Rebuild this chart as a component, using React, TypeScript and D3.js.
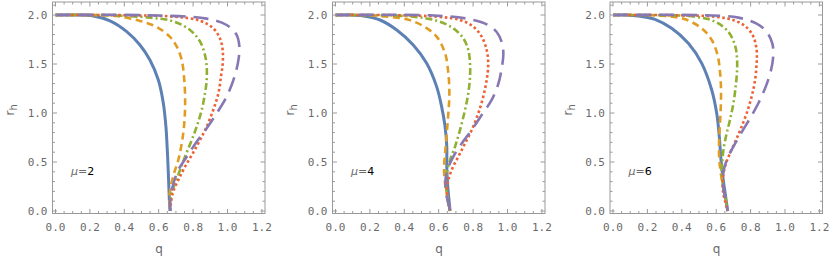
import React from "react";
import * as d3 from "d3";

type Pt = [number, number];

// Panel 1 (mu = 2)
const p1Blue: Pt[] = [[0,2],[0.1,2.0],[0.22,1.99],[0.317,1.94],[0.414,1.83],[0.491,1.694],[0.549,1.541],[0.598,1.337],[0.627,1.099],[0.642,0.86],[0.65,0.622],[0.656,0.385],[0.662,0.112],[0.666,0.0]];
const p1Orange: Pt[] = [[0,2],[0.2,2.0],[0.355,1.99],[0.491,1.94],[0.588,1.878],[0.666,1.776],[0.705,1.677],[0.734,1.541],[0.747,1.371],[0.753,1.2],[0.753,1.031],[0.747,0.861],[0.734,0.69],[0.714,0.52],[0.689,0.384],[0.67,0.248],[0.662,0.112],[0.666,0.0]];
const p1Green: Pt[] = [[0,2],[0.3,1.998],[0.549,1.973],[0.685,1.935],[0.782,1.847],[0.84,1.73],[0.869,1.592],[0.879,1.473],[0.879,1.337],[0.869,1.2],[0.85,1.031],[0.821,0.861],[0.792,0.724],[0.753,0.554],[0.724,0.418],[0.695,0.282],[0.67,0.146],[0.666,0.0]];
const p1Red: Pt[] = [[0,2],[0.4,1.998],[0.685,1.983],[0.84,1.942],[0.917,1.864],[0.956,1.762],[0.972,1.643],[0.972,1.507],[0.962,1.371],[0.947,1.2],[0.917,1.031],[0.879,0.861],[0.84,0.724],[0.798,0.588],[0.753,0.452],[0.714,0.316],[0.681,0.18],[0.666,0.0]];
const p1Purple: Pt[] = [[0,2],[0.5,1.998],[0.879,1.963],[0.995,1.898],[1.053,1.796],[1.069,1.677],[1.065,1.558],[1.049,1.422],[1.024,1.286],[0.985,1.133],[0.937,0.997],[0.879,0.844],[0.821,0.707],[0.763,0.554],[0.714,0.418],[0.681,0.248],[0.666,0.112],[0.668,0.0]];

// Panel 2 (mu = 4)
const p2Blue: Pt[] = [[0,2],[0.08,2.0],[0.162,1.99],[0.259,1.949],[0.356,1.847],[0.452,1.694],[0.53,1.507],[0.588,1.269],[0.617,1.065],[0.637,0.861],[0.647,0.657],[0.647,0.452],[0.65,0.316],[0.656,0.18],[0.662,0.078],[0.666,0.0]];
const p2Orange: Pt[] = [[0,2],[0.15,2.0],[0.259,1.99],[0.414,1.956],[0.51,1.888],[0.588,1.779],[0.637,1.609],[0.656,1.405],[0.662,1.2],[0.656,0.997],[0.647,0.793],[0.637,0.588],[0.631,0.418],[0.637,0.282],[0.65,0.146],[0.666,0.0]];
const p2Green: Pt[] = [[0,2],[0.25,1.998],[0.452,1.983],[0.588,1.942],[0.685,1.864],[0.743,1.762],[0.772,1.643],[0.782,1.507],[0.782,1.371],[0.772,1.2],[0.753,1.031],[0.724,0.827],[0.695,0.657],[0.666,0.52],[0.647,0.384],[0.643,0.248],[0.652,0.112],[0.666,0.0]];
const p2Red: Pt[] = [[0,2],[0.35,1.998],[0.588,1.983],[0.724,1.949],[0.801,1.881],[0.85,1.779],[0.879,1.643],[0.888,1.507],[0.879,1.337],[0.859,1.167],[0.83,0.997],[0.792,0.827],[0.753,0.69],[0.714,0.554],[0.675,0.418],[0.652,0.282],[0.65,0.146],[0.666,0.0]];
const p2Purple: Pt[] = [[0,2],[0.549,1.997],[0.763,1.963],[0.879,1.905],[0.937,1.827],[0.966,1.725],[0.976,1.606],[0.966,1.453],[0.947,1.3],[0.908,1.133],[0.85,0.98],[0.792,0.827],[0.734,0.69],[0.685,0.554],[0.647,0.401],[0.639,0.282],[0.647,0.146],[0.668,0.0]];

// Panel 3 (mu = 6)
const p3Blue: Pt[] = [[0,2],[0.07,2.0],[0.147,1.99],[0.244,1.956],[0.341,1.864],[0.438,1.711],[0.516,1.507],[0.574,1.235],[0.603,0.997],[0.618,0.759],[0.628,0.52],[0.641,0.316],[0.655,0.146],[0.667,0.0]];
const p3Orange: Pt[] = [[0,2],[0.17,2.0],[0.302,1.99],[0.419,1.956],[0.516,1.864],[0.574,1.745],[0.608,1.592],[0.622,1.422],[0.628,1.235],[0.626,1.031],[0.62,0.827],[0.616,0.622],[0.622,0.452],[0.636,0.282],[0.651,0.146],[0.667,0.0]];
const p3Green: Pt[] = [[0,2],[0.25,1.998],[0.477,1.983],[0.593,1.932],[0.67,1.83],[0.709,1.694],[0.721,1.558],[0.721,1.422],[0.713,1.269],[0.7,1.099],[0.68,0.929],[0.661,0.793],[0.645,0.657],[0.636,0.52],[0.632,0.384],[0.641,0.248],[0.655,0.112],[0.667,0.0]];
const p3Red: Pt[] = [[0,2],[0.35,1.998],[0.593,1.983],[0.709,1.942],[0.777,1.874],[0.816,1.779],[0.835,1.643],[0.835,1.507],[0.826,1.337],[0.806,1.167],[0.777,0.997],[0.744,0.844],[0.715,0.724],[0.68,0.588],[0.651,0.452],[0.638,0.316],[0.641,0.18],[0.655,0.078],[0.667,0.0]];
const p3Purple: Pt[] = [[0,2],[0.535,1.997],[0.729,1.973],[0.835,1.912],[0.894,1.827],[0.926,1.711],[0.932,1.592],[0.919,1.44],[0.888,1.269],[0.845,1.099],[0.797,0.946],[0.744,0.793],[0.7,0.657],[0.661,0.52],[0.641,0.384],[0.641,0.248],[0.655,0.112],[0.667,0.0]];

const muValues = ["2", "4", "6"];
const xTickLabels = ["0.0", "0.2", "0.4", "0.6", "0.8", "1.0", "1.2"];
const yTickLabels = ["0.0", "0.5", "1.0", "1.5", "2.0"];
const panelSeries: Pt[][][] = [
  [p1Blue, p1Orange, p1Green, p1Red, p1Purple],
  [p2Blue, p2Orange, p2Green, p2Red, p2Purple],
  [p3Blue, p3Orange, p3Green, p3Red, p3Purple],
];

const colors = ["#5E81B5", "#E19C24", "#8FB032", "#EB6235", "#8778B3"];
const dashes = ["", "7,4.5", "7,3,2,3", "2.6,2.6", "15,8"];
const widths = [3, 2.6, 2.6, 2.6, 2.6];

const panelOffsets = [0, 280, 557.5];
const frame = { left: 52.5, right: 265, top: 2, bottom: 213.5 };

const x = d3.scaleLinear().domain([0, 1.2]).range([55.5, 261.9]);
const y = d3.scaleLinear().domain([0, 2]).range([211, 15]);

const line = d3
  .line<Pt>()
  .x((d) => x(d[0]))
  .y((d) => y(d[1]))
  .curve(d3.curveCatmullRom.alpha(0.5));

const tickColor = "#9a9a9a";
const labelColor = "#6a6a6a";
const monoStyle = { fontFamily: "'DejaVu Sans Mono', 'Liberation Mono', monospace" };
const sansStyle = { fontFamily: "'DejaVu Sans', sans-serif" };

function Panel({ idx }: { idx: number }) {
  const xMajor = d3.range(0, 7).map((i) => i * 0.2);
  const xMinor = d3.range(0, 25).map((i) => i * 0.05).filter((v) => Math.abs(v * 5 - Math.round(v * 5)) > 1e-6);
  const yMajor = d3.range(0, 5).map((i) => i * 0.5);
  const yMinor = d3.range(0, 22).map((i) => i * 0.1).filter((v) => Math.abs(v * 2 - Math.round(v * 2)) > 1e-6);
  const majLen = 4.5;
  const minLen = 2.5;
  return (
    <g transform={`translate(${panelOffsets[idx]},0)`}>
      <defs>
        <clipPath id={`clip${idx}`}>
          <rect x={frame.left} y={frame.top} width={frame.right - frame.left} height={frame.bottom - frame.top} />
        </clipPath>
      </defs>
      <g clipPath={`url(#clip${idx})`}>
        {panelSeries[idx].map((s, i) => (
          <path
            key={i}
            d={line(s) || ""}
            fill="none"
            stroke={colors[i]}
            strokeWidth={widths[i]}
            strokeDasharray={dashes[i] || undefined}
            strokeLinecap="butt"
            strokeLinejoin="round"
          />
        ))}
      </g>
      <rect
        x={frame.left}
        y={frame.top}
        width={frame.right - frame.left}
        height={frame.bottom - frame.top}
        fill="none"
        stroke={tickColor}
        strokeWidth={1}
      />
      {xMajor.map((v, i) => (
        <g key={"xM" + i}>
          <line x1={x(v)} x2={x(v)} y1={frame.bottom} y2={frame.bottom - majLen} stroke={tickColor} />
          <line x1={x(v)} x2={x(v)} y1={frame.top} y2={frame.top + majLen} stroke={tickColor} />
          <text x={x(v)} y={231} textAnchor="middle" style={monoStyle} fontSize={11} fill={labelColor}>
            {xTickLabels[i]}
          </text>
        </g>
      ))}
      {xMinor.map((v, i) => (
        <g key={"xm" + i}>
          <line x1={x(v)} x2={x(v)} y1={frame.bottom} y2={frame.bottom - minLen} stroke={tickColor} />
          <line x1={x(v)} x2={x(v)} y1={frame.top} y2={frame.top + minLen} stroke={tickColor} />
        </g>
      ))}
      {yMajor.map((v, i) => (
        <g key={"yM" + i}>
          <line x1={frame.left} x2={frame.left + majLen} y1={y(v)} y2={y(v)} stroke={tickColor} />
          <line x1={frame.right} x2={frame.right - majLen} y1={y(v)} y2={y(v)} stroke={tickColor} />
          <text x={47.5} y={y(v) + 4} textAnchor="end" style={monoStyle} fontSize={11} fill={labelColor}>
            {yTickLabels[i]}
          </text>
        </g>
      ))}
      {yMinor.map((v, i) => (
        <g key={"ym" + i}>
          <line x1={frame.left} x2={frame.left + minLen} y1={y(v)} y2={y(v)} stroke={tickColor} />
          <line x1={frame.right} x2={frame.right - minLen} y1={y(v)} y2={y(v)} stroke={tickColor} />
        </g>
      ))}
      <text x={159} y={253} textAnchor="middle" style={sansStyle} fontSize={12} fill={labelColor}>
        q
      </text>
      <text
        transform={`translate(14,110) rotate(-90)`}
        textAnchor="middle"
        style={sansStyle}
        fontSize={13}
        fill={labelColor}
      >
        r<tspan fontSize={10} dy={3}>h</tspan>
      </text>
      <text x={71} y={175} style={sansStyle} fontSize={11}>
        <tspan fill={labelColor} fontStyle="italic">μ</tspan>
        <tspan fill={labelColor}>=</tspan>
        <tspan fill="#000">{muValues[idx]}</tspan>
      </text>
    </g>
  );
}

export default function App() {
  return (
    <svg
      width={830}
      height={262}
      style={{ position: "absolute", left: 0, top: 0, background: "#fff" }}
    >
      {[0, 1, 2].map((i) => (
        <Panel key={i} idx={i} />
      ))}
    </svg>
  );
}
